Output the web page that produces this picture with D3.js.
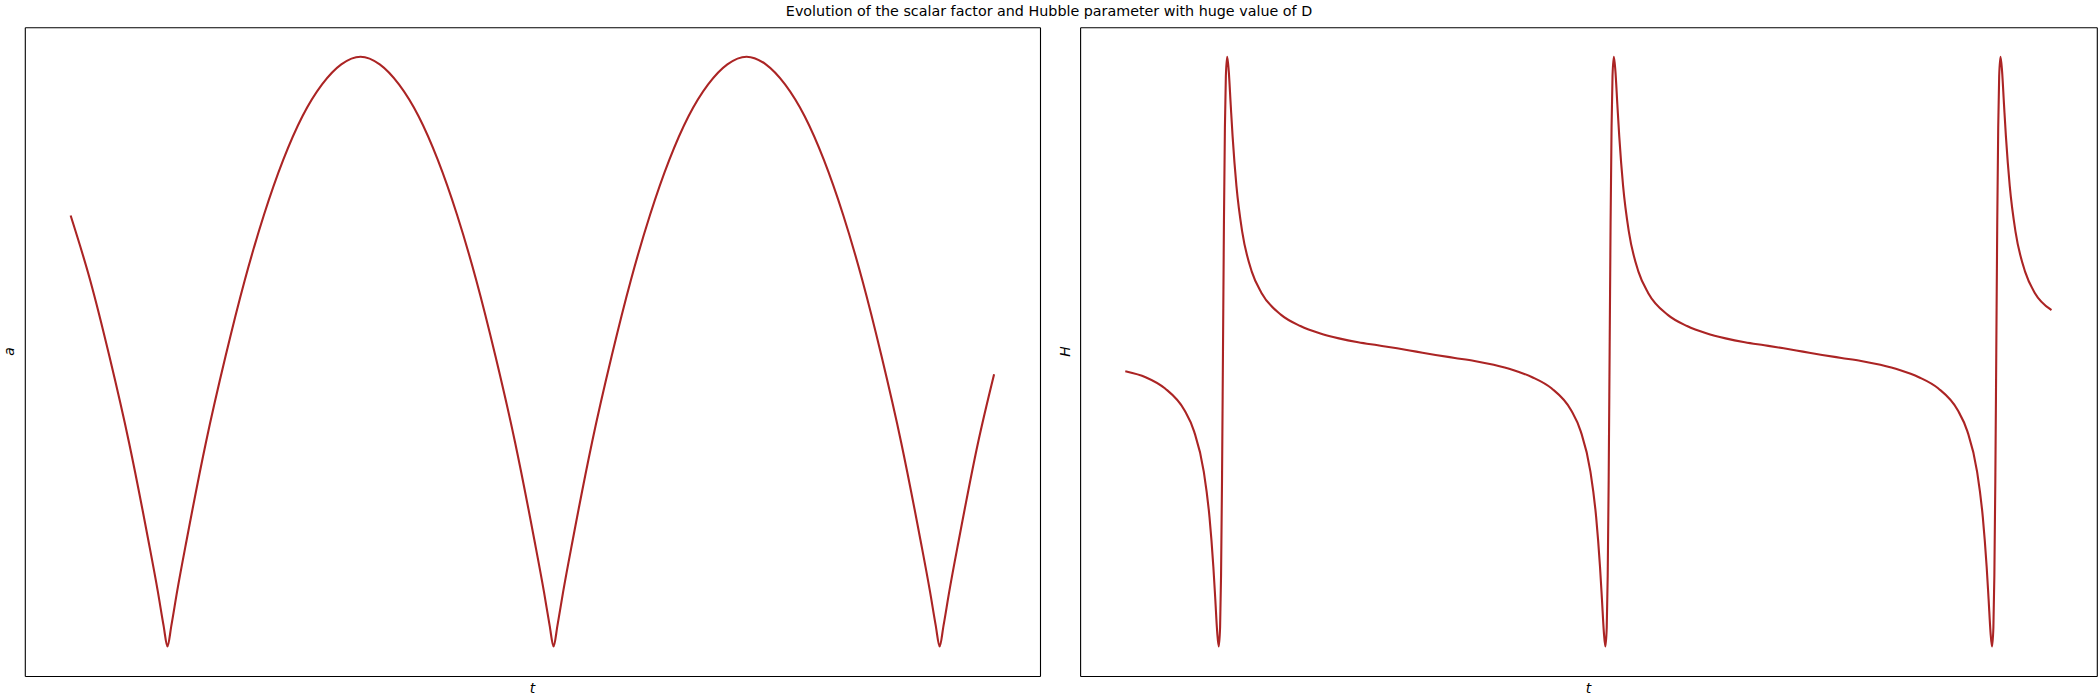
<!DOCTYPE html>
<html><head><meta charset="utf-8">
<script src="https://cdn.jsdelivr.net/npm/d3@7/dist/d3.min.js"></script>
<style>body{margin:0;background:#fff}</style>
</head><body><svg id="c" width="2100" height="700"></svg>
<script>
// ---- data ----
const titleText = "Evolution of the scalar factor and Hubble parameter with huge value of D";
const xLabel = "t";
const yLabels = ["a", "H"];

const tA = [0, 0.5, 1.0, 1.51, 2.01, 2.26, 2.41, 2.51, 2.61, 2.76, 3.01, 3.51, 4.02, 4.52, 5.02, 5.52, 6.02, 6.53, 7.03,
  7.53, 8.03, 8.53, 9.04, 9.54, 10.04, 10.54, 11.04, 11.55, 12.05, 12.3, 12.45, 12.55, 12.65, 12.8, 13.05, 13.55, 14.06,
  14.56, 15.06, 15.56, 16.06, 16.57, 17.07, 17.57, 18.07, 18.57, 19.08, 19.58, 20.08, 20.58, 21.08, 21.59, 22.09, 22.34,
  22.49, 22.59, 22.69, 22.84, 23.09, 23.59, 24.0];
const aVals = [0.729, 0.621, 0.492, 0.346, 0.181, 0.093, 0.035, 0, 0.035, 0.093, 0.181, 0.346, 0.492, 0.621, 0.732, 0.825, 0.899, 0.953, 0.987,
  1.0, 0.987, 0.953, 0.899, 0.825, 0.732, 0.621, 0.492, 0.346, 0.181, 0.093, 0.035, 0, 0.035, 0.093, 0.181, 0.346, 0.492,
  0.621, 0.732, 0.825, 0.899, 0.953, 0.987, 1.0, 0.987, 0.953, 0.899, 0.825, 0.732, 0.621, 0.492, 0.346, 0.181, 0.093,
  0.035, 0, 0.035, 0.093, 0.181, 0.346, 0.46];

const tH = [0, 0.5, 1.0, 1.51, 1.76, 2.01, 2.16, 2.26, 2.31, 2.36, 2.4, 2.435, 2.46, 2.485, 2.51, 2.535, 2.56, 2.585, 2.62,
  2.66, 2.71, 2.76, 2.86, 3.01, 3.26, 3.51, 4.02, 4.52, 5.02, 5.52, 6.02, 6.53, 7.03, 7.53, 8.03, 8.53, 9.04, 9.54, 10.04,
  10.54, 11.04, 11.55, 11.8, 12.05, 12.2, 12.3, 12.35, 12.4, 12.44, 12.475, 12.5, 12.525, 12.55, 12.575, 12.6, 12.625,
  12.66, 12.7, 12.75, 12.8, 12.9, 13.05, 13.3, 13.55, 14.06, 14.56, 15.06, 15.56, 16.06, 16.57, 17.07, 17.57, 18.07,
  18.57, 19.08, 19.58, 20.08, 20.58, 21.08, 21.59, 21.84, 22.09, 22.24, 22.34, 22.39, 22.44, 22.48, 22.515, 22.54,
  22.565, 22.59, 22.615, 22.64, 22.665, 22.7, 22.74, 22.79, 22.84, 22.94, 23.09, 23.34, 23.59, 24.0];
const hVals = [-0.066, -0.085, -0.122, -0.195, -0.265, -0.398, -0.550, -0.715, -0.822, -0.932, -0.980, -0.916, -0.744, -0.429, 0, 0.429, 0.744, 0.916, 0.980,
  0.932, 0.822, 0.715, 0.550, 0.398, 0.265, 0.195, 0.122, 0.085, 0.061, 0.044, 0.031, 0.021, 0.011, 0, -0.011, -0.021, -0.031, -0.044, -0.061,
  -0.085, -0.122, -0.195, -0.265, -0.398, -0.550, -0.715, -0.822, -0.932, -0.980, -0.916, -0.744, -0.429, 0, 0.429, 0.744, 0.916,
  0.980, 0.932, 0.822, 0.715, 0.550, 0.398, 0.265, 0.195, 0.122, 0.085, 0.061, 0.044, 0.031, 0.021, 0.011, 0, -0.011,
  -0.021, -0.031, -0.044, -0.061, -0.085, -0.122, -0.195, -0.265, -0.398, -0.550, -0.715, -0.822, -0.932, -0.980, -0.916, -0.744,
  -0.429, 0, 0.429, 0.744, 0.916, 0.980, 0.932, 0.822, 0.715, 0.550, 0.398, 0.265, 0.195, 0.14];

// ---- drawing ----
const svg = d3.select("#c");
svg.append("rect").attr("width", 2100).attr("height", 700).attr("fill", "#fff");

const axTop = 27.2, axBottom = 676;
const panels = [
  {x0: 24.8, x1: 1040, t: tA, v: aVals, label: yLabels[0], labelX: 14.3},
  {x0: 1080.1, x1: 2096.8, t: tH, v: hVals, label: yLabels[1], labelX: 1069.6}
];
const pad = ext => { const r = ext[1] - ext[0]; return [ext[0] - 0.05 * r, ext[1] + 0.05 * r]; };
const font = "'DejaVu Sans', sans-serif";

panels.forEach(p => {
  const x = d3.scaleLinear().domain(pad(d3.extent(p.t))).range([p.x0, p.x1]);
  const y = d3.scaleLinear().domain(pad(d3.extent(p.v))).range([axBottom, axTop]);
  const data = p.t.map((t, i) => [t, p.v[i]]);

  svg.append("path").datum(data)
    .attr("d", d3.line().x(d => x(d[0])).y(d => y(d[1])).curve(d3.curveMonotoneX))
    .attr("fill", "none").attr("stroke", "#ab2424").attr("stroke-width", 2.1)
    .attr("stroke-linejoin", "round").attr("stroke-linecap", "square");

  const frame = [
    [d3.axisBottom(x), 0, axBottom],
    [d3.axisTop(x), 0, axTop],
    [d3.axisLeft(y), p.x0, 0],
    [d3.axisRight(y), p.x1, 0]
  ];
  frame.forEach(([ax, tx, ty]) => {
    const g = svg.append("g").attr("transform", `translate(${tx},${ty})`)
      .call(ax.tickValues([]).tickSizeOuter(0));
    g.select(".domain").attr("stroke", "#000").attr("stroke-width", 1.1);
  });

  svg.append("text").attr("x", (p.x0 + p.x1) / 2).attr("y", 693)
    .attr("text-anchor", "middle").attr("font-family", font).attr("font-style", "italic")
    .attr("font-size", 13.9).attr("fill", "#000").text(xLabel);

  svg.append("text").attr("transform", `translate(${p.labelX},${(axTop + axBottom) / 2}) rotate(-90)`)
    .attr("text-anchor", "middle").attr("font-family", font).attr("font-style", "italic")
    .attr("font-size", 13.9).attr("fill", "#000").text(p.label);
});

svg.append("text").attr("x", 1049).attr("y", 16).attr("text-anchor", "middle")
  .attr("font-family", font).attr("font-size", 14.3).attr("fill", "#000").text(titleText);
</script>
</body></html>
